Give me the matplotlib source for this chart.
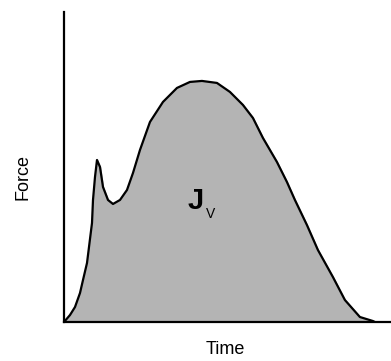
import matplotlib
matplotlib.use("Agg")
import matplotlib.pyplot as plt

plt.rcParams["font.family"] = ["Liberation Sans", "DejaVu Sans"]

# force-time curve (arbitrary units)
time = [0, 6, 11, 16, 19, 23, 25, 28, 29, 31, 33, 36, 39, 44, 49, 56, 63, 69,
        76, 86, 99, 113, 126, 138, 153, 166, 179, 189, 199, 213, 223, 231, 243,
        254, 269, 281, 296, 309, 311]
force = [0, 7, 15, 29, 42, 59, 75, 99, 122, 145, 162, 155, 135, 122, 118, 122,
         132, 149, 172, 200, 220, 234, 240, 241, 239, 230, 217, 204, 184, 160,
         140, 122, 97, 72, 45, 22, 5, 1, 0]

fig = plt.figure(figsize=(3.91, 3.61), dpi=100)
ax = fig.add_axes([0.1637, 0.108, 0.836, 0.859])

ax.fill_between(time, force, 0, color="#b4b4b4", zorder=1)
ax.plot(time, force, color="black", linewidth=1.6, zorder=2,
        solid_joinstyle="round")

ax.set_xlim(0, 327)
ax.set_ylim(0, 310)
ax.set_xticks([])
ax.set_yticks([])
for s in ["top", "right"]:
    ax.spines[s].set_visible(False)
for s in ["left", "bottom"]:
    ax.spines[s].set_linewidth(1.6)

ax.text(132, 121, "J", fontsize=21, fontweight="bold", ha="center", va="center")
ax.text(147, 108, "V", fontsize=10, ha="center", va="center")

fig.text(0.575, 0.033, "Time", fontsize=13, ha="center", va="center")
fig.text(0.06, 0.51, "Force", fontsize=13, ha="center", va="center",
         rotation=90)

fig.savefig("out.png", dpi=100)
